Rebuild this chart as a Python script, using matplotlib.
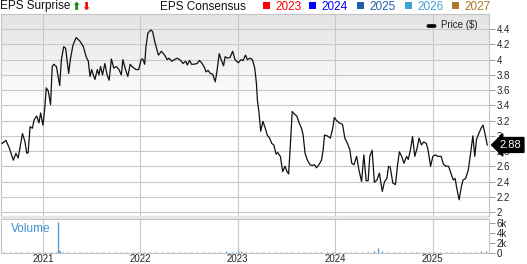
import matplotlib
matplotlib.use("Agg")
import matplotlib.pyplot as plt
import matplotlib.transforms as mtransforms
from matplotlib.patches import Rectangle, FancyBboxPatch
from matplotlib.colors import LinearSegmentedColormap
import numpy as np
import pandas as pd

# ---------------- data (time in decimal years) ----------------
price_years = [
    2020.581, 2020.621, 2020.655, 2020.696, 2020.723, 2020.746, 2020.790, 2020.814, 2020.834, 2020.848,
    2020.868, 2020.892, 2020.909, 2020.936, 2020.959, 2020.976, 2021.000, 2021.017, 2021.034, 2021.054,
    2021.078, 2021.095, 2021.111, 2021.138, 2021.172, 2021.189, 2021.213, 2021.233, 2021.264, 2021.281,
    2021.308, 2021.341, 2021.382, 2021.416, 2021.443, 2021.466, 2021.483, 2021.500, 2021.517, 2021.534,
    2021.558, 2021.575, 2021.592, 2021.612, 2021.636, 2021.659, 2021.680, 2021.703, 2021.727, 2021.754,
    2021.781, 2021.805, 2021.821, 2021.848, 2021.872, 2021.896, 2021.923, 2021.957, 2021.984, 2022.008,
    2022.025, 2022.045, 2022.058, 2022.078, 2022.109, 2022.126, 2022.152, 2022.186, 2022.217, 2022.250,
    2022.277, 2022.294, 2022.324, 2022.348, 2022.381, 2022.415, 2022.439, 2022.466, 2022.483, 2022.506,
    2022.527, 2022.550, 2022.584, 2022.608, 2022.635, 2022.662, 2022.675, 2022.696, 2022.719, 2022.743,
    2022.770, 2022.787, 2022.811, 2022.831, 2022.855, 2022.872, 2022.895, 2022.922, 2022.949, 2022.973,
    2023.007, 2023.034, 2023.057, 2023.081, 2023.101, 2023.125, 2023.152, 2023.176, 2023.193, 2023.203,
    2023.220, 2023.237, 2023.260, 2023.284, 2023.304, 2023.328, 2023.351, 2023.372, 2023.395, 2023.412,
    2023.439, 2023.463, 2023.487, 2023.507, 2023.524, 2023.541, 2023.561, 2023.588, 2023.608, 2023.632,
    2023.656, 2023.673, 2023.693, 2023.717, 2023.744, 2023.767, 2023.791, 2023.811, 2023.835, 2023.862,
    2023.879, 2023.893, 2023.920, 2023.953, 2023.977, 2023.993, 2024.017, 2024.044, 2024.078, 2024.101,
    2024.128, 2024.152, 2024.172, 2024.195, 2024.222, 2024.246, 2024.273, 2024.296, 2024.320, 2024.340,
    2024.357, 2024.381, 2024.404, 2024.431, 2024.455, 2024.485, 2024.508, 2024.532, 2024.549, 2024.566,
    2024.593, 2024.620, 2024.640, 2024.660, 2024.684, 2024.707, 2024.734, 2024.751, 2024.774, 2024.795,
    2024.818, 2024.842, 2024.862, 2024.886, 2024.909, 2024.936, 2024.953, 2024.980, 2025.003, 2025.030,
    2025.054, 2025.088, 2025.111, 2025.138, 2025.165, 2025.189, 2025.212, 2025.232, 2025.249, 2025.273,
    2025.296, 2025.313, 2025.340, 2025.367, 2025.391, 2025.414, 2025.434, 2025.451, 2025.475, 2025.499,
    2025.519, 2025.540, 2025.562,
]
price_values = [
    2.90, 2.94, 2.84, 2.68, 2.77, 2.71, 3.03, 2.93, 2.77, 2.78,
    3.12, 3.10, 3.21, 3.26, 3.17, 3.30, 3.14, 3.34, 3.63, 3.59,
    3.41, 3.91, 3.94, 3.91, 3.66, 4.00, 4.17, 4.15, 3.82, 4.00,
    4.19, 4.29, 4.24, 4.17, 4.04, 3.98, 3.78, 3.87, 3.80, 3.74,
    3.87, 3.80, 3.91, 3.80, 3.95, 3.80, 3.73, 4.01, 3.89, 3.91,
    3.87, 3.80, 4.00, 3.87, 3.78, 3.94, 3.90, 3.87, 3.87, 4.00,
    4.01, 3.94, 4.17, 4.35, 4.39, 4.37, 4.22, 4.06, 4.11, 4.06,
    4.00, 4.02, 3.98, 4.00, 4.02, 3.99, 3.95, 3.98, 3.93, 3.99,
    3.94, 3.94, 3.95, 3.99, 3.95, 3.89, 3.84, 3.86, 3.82, 3.81,
    3.71, 3.84, 4.08, 4.00, 3.92, 4.04, 4.02, 4.03, 4.11, 4.00,
    3.96, 4.00, 3.99, 4.06, 4.00, 4.02, 4.00, 3.89, 3.69, 3.47,
    3.30, 3.06, 3.19, 3.10, 3.01, 2.97, 2.90, 2.88, 2.76, 2.78,
    2.73, 2.53, 2.60, 2.53, 2.50, 2.86, 3.32, 3.28, 3.26, 3.17,
    3.10, 3.01, 2.77, 2.68, 2.62, 2.61, 2.62, 2.58, 2.62, 2.68,
    2.82, 3.01, 3.00, 2.97, 3.10, 3.24, 3.20, 3.17, 3.15, 2.97,
    2.90, 2.82, 2.64, 2.62, 2.73, 2.55, 2.40, 2.75, 2.41, 2.41,
    2.73, 2.81, 2.39, 2.42, 2.51, 2.27, 2.40, 2.44, 2.60, 2.59,
    2.38, 2.36, 2.60, 2.79, 2.73, 2.64, 2.73, 2.69, 2.82, 2.99,
    2.73, 2.84, 2.97, 2.88, 2.92, 2.90, 2.82, 2.60, 2.73, 2.75,
    2.73, 2.73, 2.63, 2.60, 2.60, 2.51, 2.42, 2.44, 2.31, 2.16,
    2.33, 2.42, 2.44, 2.55, 2.77, 3.00, 2.73, 2.95, 3.03, 3.10,
    3.14, 3.02, 2.88,
]
last_price = 2.88

vol_years = [
    2020.60, 2020.66, 2020.72, 2020.78, 2020.84, 2020.90, 2020.96, 2021.02, 2021.08, 2021.13,
    2021.154, 2021.165, 2021.18, 2021.21, 2021.26, 2021.32, 2021.38, 2021.44, 2021.50, 2021.56,
    2021.62, 2021.68, 2021.74, 2021.80, 2021.86, 2021.92, 2021.98, 2022.04, 2022.10, 2022.16,
    2022.22, 2022.28, 2022.34, 2022.40, 2022.46, 2022.52, 2022.58, 2022.64, 2022.70, 2022.76,
    2022.82, 2022.88, 2022.94, 2023.00, 2023.03, 2023.08, 2023.14, 2023.20, 2023.26, 2023.32,
    2023.38, 2023.44, 2023.50, 2023.56, 2023.62, 2023.68, 2023.74, 2023.80, 2023.86, 2023.92,
    2023.98, 2024.04, 2024.10, 2024.16, 2024.22, 2024.28, 2024.34, 2024.40, 2024.446, 2024.48,
    2024.54, 2024.60, 2024.66, 2024.72, 2024.78, 2024.84, 2024.90, 2024.96, 2025.02, 2025.08,
    2025.14, 2025.20, 2025.26, 2025.32, 2025.38, 2025.44, 2025.50, 2025.55,
]
vol_values = [
    150, 120, 180, 140, 160, 200, 130, 170, 150, 250,
    6300, 700, 350, 300, 250, 200, 180, 220, 160, 200,
    150, 180, 260, 170, 150, 220, 160, 180, 240, 150,
    170, 200, 160, 190, 150, 210, 170, 160, 240, 180,
    150, 420, 200, 480, 350, 220, 180, 160, 200, 170,
    150, 190, 160, 210, 170, 150, 200, 180, 160, 150,
    170, 250, 300, 220, 180, 200, 260, 350, 1000, 400,
    300, 250, 200, 180, 220, 170, 190, 160, 200, 280,
    230, 250, 220, 300, 260, 280, 320, 350,
]

price_ticks = [2.0, 2.2, 2.4, 2.6, 2.8, 3.0, 3.2, 3.4, 3.6, 3.8, 4.0, 4.2, 4.4]
vol_ticks = [0, 2000, 4000, 6000]
vol_tick_labels = ["0", "2k", "4k", "6k"]
year_ticks = [2021, 2022, 2023, 2024, 2025]

legend_years = ["2023", "2024", "2025", "2026", "2027"]
legend_colors = ["#ff0000", "#0000ff", "#1f5fad", "#3fa3d3", "#b07828"]


def to_dt(y):
    yr = int(np.floor(y))
    start = pd.Timestamp(yr, 1, 1)
    end = pd.Timestamp(yr + 1, 1, 1)
    return start + (end - start) * (y - yr)


price_dates = [to_dt(y) for y in price_years]
vol_dates = [to_dt(y) for y in vol_years]
year_dates = [pd.Timestamp(y, 1, 1) for y in year_ticks]
x_left, x_right = to_dt(2020.570), to_dt(2025.580)

plt.rcParams["font.family"] = ["Liberation Sans", "DejaVu Sans"]

W, H = 527, 264
fig = plt.figure(figsize=(W / 100, H / 100), dpi=100)
fig.patch.set_facecolor("white")

def fx(px):
    return px / W

def fy(py):
    return 1 - py / H

grid_c = "#c8c8c8"
spine_c = "#c4c4c4"
tick_txt = "#222222"

# ---------------- main price axes ----------------
ax = fig.add_axes([fx(1), fy(216), fx(488), (216 - 14) / H])
grad = np.linspace(0, 1, 256).reshape(-1, 1)
cmap = LinearSegmentedColormap.from_list(
    "g", [(0.0, "#ffffff"), (0.55, "#ffffff"), (1.0, "#e4e4e4")])
ax.imshow(grad, extent=[0, 1, 0, 1], transform=ax.transAxes, aspect="auto",
          cmap=cmap, origin="lower", zorder=0)
ax.plot(price_dates, price_values, color="#111111", lw=0.9, zorder=3,
        solid_joinstyle="round")
ax.set_xlim(x_left, x_right)
ax.set_ylim(1.947, 4.60)
ax.set_yticks(price_ticks)
ax.set_yticklabels(["%g" % t for t in price_ticks])
ax.yaxis.tick_right()
ax.tick_params(axis="y", direction="out", length=4, width=0.7, color="#999999",
               labelsize=7, labelcolor=tick_txt, pad=1.5)
ax.set_xticks(year_dates)
ax.tick_params(axis="x", length=0, labelbottom=False)
ax.grid(True, color=grid_c, lw=0.8, zorder=1)
for s in ax.spines.values():
    s.set_color(spine_c)
    s.set_linewidth(0.8)

# price legend
ax.add_patch(FancyBboxPatch((fx(427), fy(27.5)), fx(9), 3 / H,
                            boxstyle="round,pad=0,rounding_size=0.004",
                            transform=fig.transFigure, fc="black", ec="black",
                            lw=0.5, clip_on=False, zorder=5))
fig.text(fx(441), fy(25.5), "Price ($)", fontsize=7, color="#222222",
         va="center", ha="left")

# last price tag
trans = mtransforms.blended_transform_factory(ax.transAxes, ax.transData)
ax.text(1.022, last_price, "%.2f" % last_price, transform=trans, color="white",
        fontsize=8, va="center", ha="left", zorder=10, clip_on=False,
        bbox=dict(boxstyle="larrow,pad=0.22", fc="black", ec="black"))

# separator band
fig.patches.append(Rectangle((fx(1), fy(219)), fx(488), 3 / H,
                             transform=fig.transFigure, fc="#e6e6e6",
                             ec="none", zorder=0))

# ---------------- volume axes ----------------
axv = fig.add_axes([fx(1), fy(253), fx(488), (253 - 219) / H])
axv.vlines(vol_dates, 0, vol_values, color="#5a9fd4", lw=1.0, zorder=3)
axv.set_xlim(x_left, x_right)
axv.set_ylim(0, 6800)
axv.set_yticks(vol_ticks)
axv.set_yticklabels(vol_tick_labels)
axv.yaxis.tick_right()
axv.tick_params(axis="y", direction="out", length=4, width=0.7, color="#999999",
                labelsize=7, labelcolor=tick_txt, pad=1.5)
axv.set_xticks(year_dates)
axv.set_xticklabels([str(y) for y in year_ticks])
axv.tick_params(axis="x", length=0, labelsize=7, labelcolor=tick_txt, pad=1)
axv.grid(True, axis="x", color=grid_c, lw=0.8, zorder=1)
for s in axv.spines.values():
    s.set_color(spine_c)
    s.set_linewidth(0.8)
axv.text(fx(10) / fx(488), 0.72, "Volume", transform=axv.transAxes,
         fontsize=8.5, color="#3d8fd1", va="center", ha="left")

# ---------------- header ----------------
fig.text(fx(0), fy(6.5), "EPS Surprise", fontsize=8.5, color="#111111",
         va="center", ha="left")
fig.text(fx(76.5), fy(6.5), "\u2b06", fontsize=8, color="#1a8a1a",
         va="center", ha="center", family="DejaVu Sans", fontweight="bold")
fig.text(fx(86), fy(6.5), "\u2b07", fontsize=8, color="#ee1111",
         va="center", ha="center", family="DejaVu Sans", fontweight="bold")
fig.text(fx(160), fy(6.5), "EPS Consensus", fontsize=8.5, color="#111111",
         va="center", ha="left")
sq_x = [263, 309, 357, 405, 452]
for lx, lab, col in zip(sq_x, legend_years, legend_colors):
    fig.patches.append(Rectangle((fx(lx), fy(9)), fx(7), 7 / H,
                                 transform=fig.transFigure, fc=col, ec="none"))
    fig.text(fx(lx + 12.5), fy(6.5), lab, fontsize=8.5, color=col,
             va="center", ha="left")

fig.savefig("out.png", dpi=100, facecolor="white")
